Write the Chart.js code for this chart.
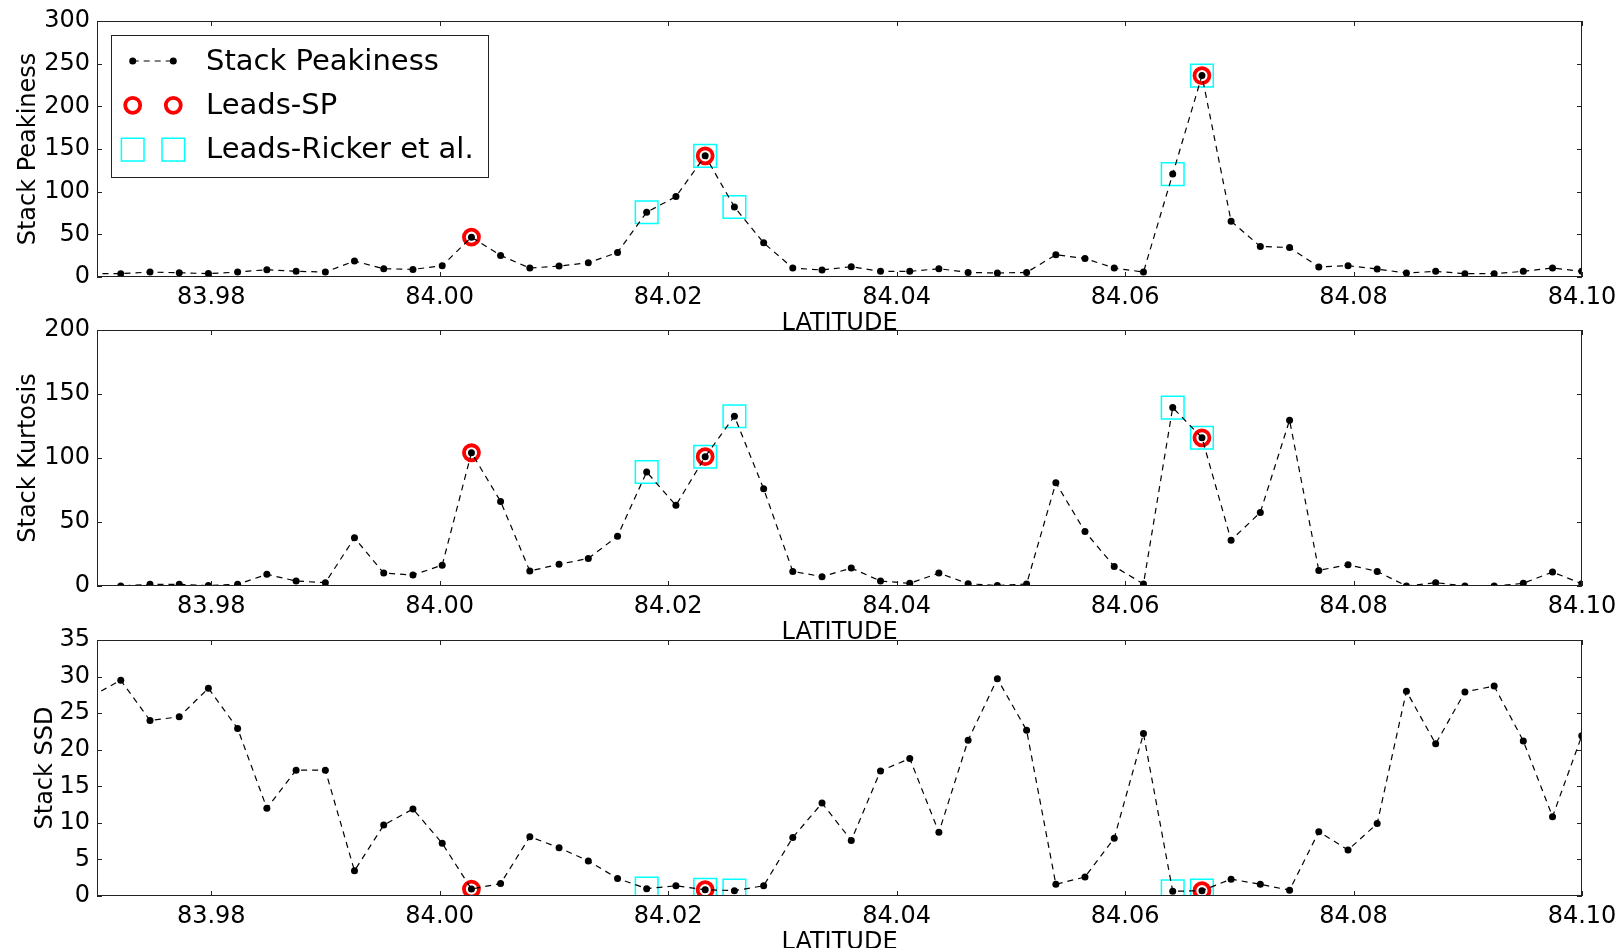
<!DOCTYPE html>
<html>
<head>
<meta charset="utf-8">
<script src="https://cdn.jsdelivr.net/npm/chart.js@4.4.1/dist/chart.umd.min.js"></script>
<style>
  body { margin: 0; background: #fff; width: 1623px; height: 948px; overflow: hidden; position: relative; }
  canvas { position: absolute; left: 0; }
</style>
</head>
<body>
<canvas id="peak" width="1623" height="344" style="top:-1px"></canvas>
<canvas id="kurt" width="1623" height="344" style="top:308px"></canvas>
<canvas id="ssd" width="1623" height="344" style="top:618px"></canvas>
<script>
// sample latitudes (first one sits just left of the axis)
const latitude = [83.96952, 83.97208, 83.97464, 83.97720, 83.97975, 83.98231, 83.98487, 83.98743, 83.98999, 83.99254,
  83.99510, 83.99766, 84.00022, 84.00278, 84.00533, 84.00789, 84.01045, 84.01301, 84.01557, 84.01812,
  84.02068, 84.02324, 84.02580, 84.02836, 84.03091, 84.03347, 84.03603, 84.03859, 84.04115, 84.04370,
  84.04626, 84.04882, 84.05138, 84.05394, 84.05649, 84.05905, 84.06161, 84.06417, 84.06673, 84.06928,
  84.07184, 84.07440, 84.07696, 84.07952, 84.08207, 84.08463, 84.08719, 84.08975, 84.09231, 84.09486,
  84.09742, 84.09998];

const peakiness = [4, 3.9, 5.8, 5, 4, 5.8, 8.6, 6.6, 5.8, 18.7,
  9.7, 8.9, 13.2, 46.7, 25.3, 10.5, 12.8, 16.7, 28.8, 75.9,
  94.2, 142, 82.1, 40, 10.5, 8.2, 12.1, 6.6, 6.6, 9.7,
  5.4, 4.7, 5.4, 26, 21.8, 10.5, 5.8, 120.6, 236, 65.4,
  35.8, 34.6, 11.7, 13.2, 9.3, 4.7, 6.6, 3.9, 3.9, 6.6,
  10.5, 6.6];

const kurtosis = [0, 0, 1.3, 1.3, 0.3, 1.3, 9.1, 3.9, 2.6, 37.6,
  10.1, 8.5, 16.3, 104.1, 66.1, 11.7, 17, 21.5, 38.9, 89.1,
  63, 101, 132.6, 75.9, 11.4, 7.3, 14, 3.9, 2.1, 10.1,
  1.8, 0.3, 1.6, 80.6, 42.5, 15.3, 1.6, 139.4, 115.8, 35.8,
  57.5, 129.5, 12.2, 16.6, 11.4, 0, 2.6, 0, 0, 2.1,
  10.9, 1.8];

const ssd = [27.3, 29.5, 24.0, 24.5, 28.4, 22.9, 12.0, 17.2, 17.2, 3.45,
  9.7, 11.9, 7.2, 0.95, 1.7, 8.1, 6.6, 4.8, 2.4, 1.0,
  1.4, 0.86, 0.73, 1.4, 8.0, 12.7, 7.6, 17.1, 18.8, 8.7,
  21.3, 29.7, 22.65, 1.6, 2.6, 7.9, 22.2, 0.64, 0.73, 2.3,
  1.6, 0.8, 8.8, 6.3, 9.9, 28.0, 20.8, 27.9, 28.7, 21.2,
  10.85, 21.9];

const leadsSP = [84.00278, 84.02324, 84.06673];
const leadsRicker = [84.01812, 84.02324, 84.02580, 84.06417, 84.06673];

const latTicks = [83.98, 84.00, 84.02, 84.04, 84.06, 84.08, 84.10];
const peakTicks = [0, 50, 100, 150, 200, 250, 300];
const kurtTicks = [0, 50, 100, 150, 200];
const ssdTicks = [0, 5, 10, 15, 20, 25, 30, 35];

Chart.defaults.font.family = "'DejaVu Sans', sans-serif";
Chart.defaults.color = "#000";

// white axes patch, box and inward ticks like matplotlib
const framePlugin = {
  id: "frame",
  beforeDraw(chart) {
    const a = chart.chartArea, ctx = chart.ctx;
    ctx.save();
    ctx.fillStyle = "#fff";
    ctx.fillRect(a.left, a.top, a.right - a.left, a.bottom - a.top);
    ctx.restore();
  },
  afterDatasetsDraw(chart) {
    const a = chart.chartArea, ctx = chart.ctx;
    const xs = chart.scales.x, ys = chart.scales.y;
    ctx.save();
    ctx.strokeStyle = "#222";
    ctx.lineWidth = 1;
    ctx.strokeRect(a.left + 0.5, a.top + 0.5, a.right - a.left - 1, a.bottom - a.top - 1);
    ctx.beginPath();
    xs.ticks.forEach(t => {
      const px = Math.round(xs.getPixelForValue(t.value)) + 0.5;
      ctx.moveTo(px, a.bottom); ctx.lineTo(px, a.bottom - 5);
      ctx.moveTo(px, a.top); ctx.lineTo(px, a.top + 5);
    });
    ys.ticks.forEach(t => {
      const py = Math.round(ys.getPixelForValue(t.value)) + 0.5;
      ctx.moveTo(a.left, py); ctx.lineTo(a.left + 5, py);
      ctx.moveTo(a.right, py); ctx.lineTo(a.right - 5, py);
    });
    ctx.stroke();
    ctx.restore();
  },
  afterDraw(chart) {
    if (!chart.options.plugins.frame || !chart.options.plugins.frame.legend) return;
    const a = chart.chartArea, ctx = chart.ctx;
    const bx = a.left + 14, by = a.top + 14;
    ctx.save();
    ctx.fillStyle = "#fff";
    ctx.fillRect(bx, by, 377, 142);
    ctx.strokeStyle = "#222";
    ctx.lineWidth = 1;
    ctx.strokeRect(bx + 0.5, by + 0.5, 377, 142);
    chart.data.datasets.forEach((ds, k) => {
      const y = by + 26 + k * 44.3;
      const x1 = a.left + 35.7, x2 = a.left + 76.3;
      if (ds.showLine !== false) {
        ctx.strokeStyle = ds.borderColor;
        ctx.lineWidth = ds.borderWidth;
        ctx.setLineDash(ds.borderDash);
        ctx.beginPath(); ctx.moveTo(x1, y); ctx.lineTo(x2, y); ctx.stroke();
        ctx.setLineDash([]);
      }
      [x1, x2].forEach(x => {
        ctx.fillStyle = ds.pointBackgroundColor;
        ctx.strokeStyle = ds.pointBorderColor;
        ctx.lineWidth = ds.pointBorderWidth;
        Chart.helpers.drawPoint(ctx, {
          pointStyle: ds.pointStyle, radius: ds.pointRadius, rotation: 0, borderWidth: ds.pointBorderWidth
        }, x, y);
      });
      ctx.fillStyle = "#000";
      ctx.font = "29px 'DejaVu Sans'";
      ctx.textBaseline = "middle";
      ctx.fillText(ds.label, a.left + 109, y + 1);
    });
    ctx.restore();
  }
};

function pick(values, lats) {
  return lats.map(lat => ({ x: lat, y: values[latitude.indexOf(lat)] }));
}

function makePanel(id, values, yTicks, yLabel, yTitlePad, legend) {
  new Chart(document.getElementById(id), {
    type: "line",
    data: {
      datasets: [
        {
          label: "Stack Peakiness",
          data: latitude.map((lat, i) => ({ x: lat, y: values[i] })),
          borderColor: "#000",
          borderWidth: 1.2,
          borderDash: [6, 5],
          pointStyle: "circle",
          pointRadius: 3.5,
          pointBackgroundColor: "#000",
          pointBorderColor: "#000",
          pointBorderWidth: 0,
          tension: 0,
          clip: 0
        },
        {
          label: "Leads-SP",
          data: pick(values, leadsSP),
          showLine: false,
          pointStyle: "circle",
          pointRadius: 7.5,
          pointBackgroundColor: "rgba(0,0,0,0)",
          pointBorderColor: "#ff0000",
          pointBorderWidth: 3.8,
          clip: 0
        },
        {
          label: "Leads-Ricker et al.",
          data: pick(values, leadsRicker),
          showLine: false,
          pointStyle: "rect",
          pointRadius: 16,
          pointBackgroundColor: "rgba(0,0,0,0)",
          pointBorderColor: "#00ffff",
          pointBorderWidth: 1.5,
          clip: 0
        }
      ]
    },
    options: {
      responsive: false,
      animation: false,
      events: [],
      layout: { padding: { top: 22, right: 41, left: 0, bottom: 0 } },
      plugins: {
        legend: { display: false },
        tooltip: { enabled: false },
        frame: { legend: legend }
      },
      scales: {
        x: {
          type: "linear",
          min: 83.97,
          max: 84.10,
          grid: { display: false, drawTicks: false },
          border: { display: false },
          afterBuildTicks: s => { s.ticks = latTicks.map(v => ({ value: v })); },
          afterFit: s => { s.height = 66; },
          ticks: {
            autoSkip: false,
            maxRotation: 0,
            padding: 6,
            font: { size: 24 },
            callback: v => Number(v).toFixed(2)
          },
          title: {
            display: true,
            text: "LATITUDE",
            font: { size: 24, lineHeight: 1 },
            padding: { top: 0, bottom: 7.6 }
          }
        },
        y: {
          min: yTicks[0],
          max: yTicks[yTicks.length - 1],
          grid: { display: false, drawTicks: false },
          border: { display: false },
          afterBuildTicks: s => { s.ticks = yTicks.map(v => ({ value: v })); },
          afterFit: s => { s.width = 97; },
          ticks: {
            padding: 7,
            font: { size: 24 },
            callback: v => String(v)
          },
          title: {
            display: true,
            text: yLabel,
            font: { size: 24, lineHeight: 1 },
            padding: { top: yTitlePad, bottom: 0 }
          }
        }
      }
    },
    plugins: [framePlugin]
  });
}

makePanel("peak", peakiness, peakTicks, "Stack Peakiness", 17, true);
makePanel("kurt", kurtosis, kurtTicks, "Stack Kurtosis", 17, false);
makePanel("ssd", ssd, ssdTicks, "Stack SSD", 34, false);
</script>
</body>
</html>
